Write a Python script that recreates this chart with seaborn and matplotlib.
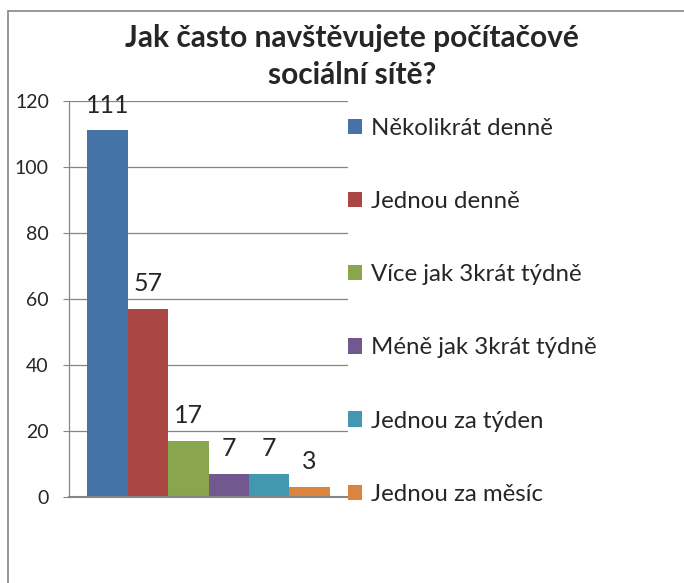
import matplotlib
matplotlib.use("Agg")
import matplotlib.pyplot as plt
import seaborn as sns
import pandas as pd
from matplotlib.lines import Line2D

categories = ["Několikrát denně", "Jednou denně", "Více jak 3krát týdně",
              "Méně jak 3krát týdně", "Jednou za týden", "Jednou za měsíc"]
values = [111, 57, 17, 7, 7, 3]
colors = ["#4572A7", "#AA4643", "#89A54E", "#71588F", "#4198AF", "#DB843D"]
yticks = [0, 20, 40, 60, 80, 100, 120]
title_lines = ["Jak často navštěvujete počítačové", "sociální sítě?"]

sns.set_theme(style="white")
plt.rcParams['font.family'] = ['Lato', 'DejaVu Sans']

df = pd.DataFrame({"group": [""] * len(categories), "cat": categories, "value": values})

fig = plt.figure(figsize=(6.84, 5.83), dpi=100)
ax = fig.add_axes([69/684, 1-497/583, 279/684, (497-100.7)/583])

sns.barplot(data=df, x="group", y="value", hue="cat", hue_order=categories,
            palette=colors, width=0.87, saturation=1, ax=ax, legend=True,
            linewidth=0)

ax.set_xlim(-0.5, 0.5)
ax.set_ylim(0, 120)
ax.set_yticks(yticks)
ax.set_yticklabels([str(t) for t in yticks], fontsize=14)
ax.set_xticks([])
ax.set_xlabel("")
ax.set_ylabel("")
ax.tick_params(axis='y', length=4.5, width=0.8, color="#868686", pad=10, direction='out', left=True)
ax.yaxis.grid(True, color="#868686", lw=0.9)
ax.set_axisbelow(True)
for s in ["top", "right"]:
    ax.spines[s].set_visible(False)
ax.spines["left"].set_color("#868686")
ax.spines["left"].set_linewidth(0.9)
ax.spines["bottom"].set_color("#868686")
ax.spines["bottom"].set_linewidth(1.5)

for cont in ax.containers:
    ax.bar_label(cont, fontsize=18, padding=10)

handles, labels = ax.get_legend_handles_labels()
ax.legend(handles, labels, loc="upper left", bbox_to_anchor=(348/684, 1-118/583),
          bbox_transform=fig.transFigure, frameon=False, fontsize=17.3,
          handlelength=0.6, handleheight=0.6, handletextpad=0.35,
          labelspacing=2.17, borderpad=0, borderaxespad=0)

fig.text(352/684, 1-38/583, title_lines[0], ha="center", va="center", fontsize=21.5,
         fontweight="bold")
fig.text(352/684, 1-75/583, title_lines[1], ha="center", va="center", fontsize=21.5,
         fontweight="bold")

fig.add_artist(Line2D([7.5/684, 7.5/684], [0, 1-10.5/583], color="#868686", lw=1.2,
                      transform=fig.transFigure))
fig.add_artist(Line2D([7.5/684, 1], [1-10.5/583, 1-10.5/583], color="#868686", lw=1.2,
                      transform=fig.transFigure))

fig.savefig("out.png", dpi=100)
